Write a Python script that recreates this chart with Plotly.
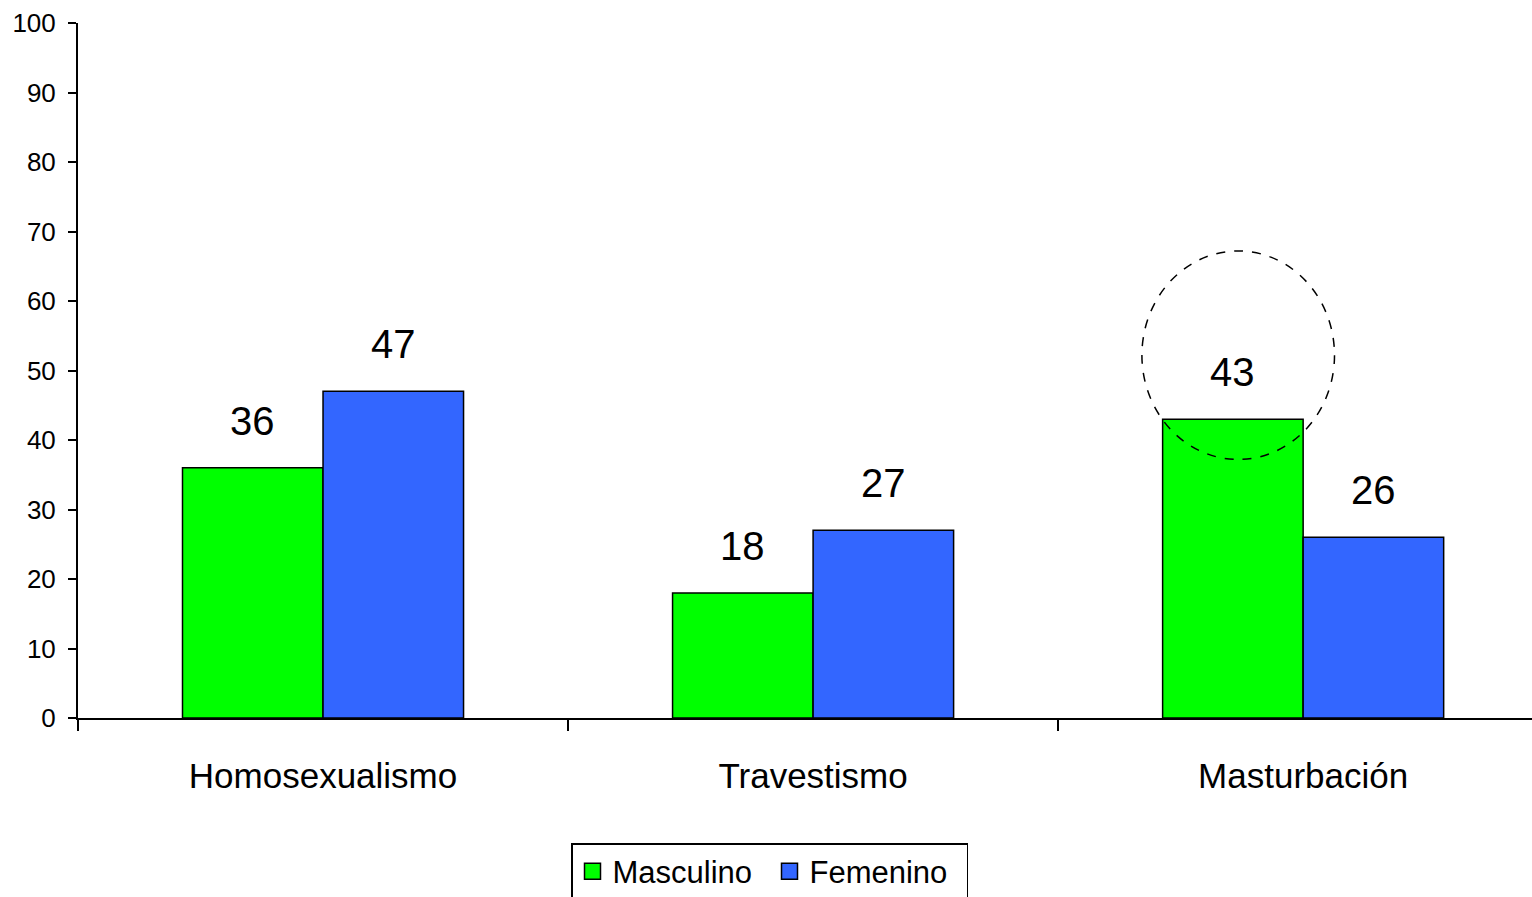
import plotly.graph_objects as go

categories = ["Homosexualismo", "Travestismo", "Masturbación"]
masculino = [36, 18, 43]
femenino = [47, 27, 26]
y_ticks = [0, 10, 20, 30, 40, 50, 60, 70, 80, 90, 100]

FONT = "Liberation Sans, Arial, sans-serif"
GREEN = "#00FF00"
BLUE = "#3366FF"
BARGAP = 0.4265
half = (1 - BARGAP) / 4  # offset of each bar centre from the category centre

fig = go.Figure()
fig.add_trace(go.Bar(x=categories, y=masculino, name="Masculino", showlegend=False,
                     marker=dict(color=GREEN, line=dict(color="black", width=1.5))))
fig.add_trace(go.Bar(x=categories, y=femenino, name="Femenino", showlegend=False,
                     marker=dict(color=BLUE, line=dict(color="black", width=1.5))))
# legend entries with bigger square symbols
for nm, col in (("Masculino", GREEN), ("Femenino", BLUE)):
    fig.add_trace(go.Scatter(x=[None], y=[None], mode="markers", name=nm,
                             marker=dict(symbol="square", size=16, color=col,
                                         line=dict(color="black", width=1.5))))

# value labels
for i, c in enumerate(categories):
    for val, off in ((masculino[i], -half), (femenino[i], half)):
        fig.add_annotation(x=i + off, y=val, xref="x", yref="y", text=str(val),
                           showarrow=False, yanchor="bottom", yshift=23,
                           font=dict(family=FONT, size=40, color="black"))

# dashed highlight ellipse around Masturbación / Masculino
fig.add_shape(type="circle", xref="x", yref="y",
              x0=1.671, x1=2.064, y0=37.2, y1=67.2,
              line=dict(color="black", width=1.5, dash="dash"))

fig.update_layout(
    template="none",
    width=1532, height=897,
    margin=dict(l=78, r=0, t=23, b=179, autoexpand=False),
    paper_bgcolor="white", plot_bgcolor="white",
    barmode="group", bargap=BARGAP, bargroupgap=0,
    font=dict(family=FONT, color="black"),
    showlegend=True,
    legend=dict(orientation="h", xref="container", yref="container",
                x=571 / 1532, xanchor="left", y=1 - 843 / 897, yanchor="top",
                bordercolor="black", borderwidth=1.5, bgcolor="white",
                font=dict(family=FONT, size=31, color="black"),
                entrywidth=152, entrywidthmode="pixels",
                traceorder="normal"),
    xaxis=dict(range=[-0.5, 2.467], showline=True, linecolor="black", linewidth=2,
               ticks="outside", tickson="boundaries", ticklen=11, tickwidth=1.5,
               tickcolor="black", showgrid=False, zeroline=False, automargin=False,
               tickfont=dict(family=FONT, size=35, color="black"),
               ticklabelstandoff=26),
    yaxis=dict(range=[0, 100], tickvals=y_ticks, showline=True, linecolor="black",
               linewidth=2, ticks="outside", ticklen=8, tickwidth=1.5,
               tickcolor="black", showgrid=False, zeroline=False, automargin=False,
               tickfont=dict(family=FONT, size=26, color="black"),
               ticklabelstandoff=7),
)

fig.write_html("out.html", config={"displayModeBar": False},
               post_script="document.body.style.margin='0';document.body.style.overflow='hidden';")
